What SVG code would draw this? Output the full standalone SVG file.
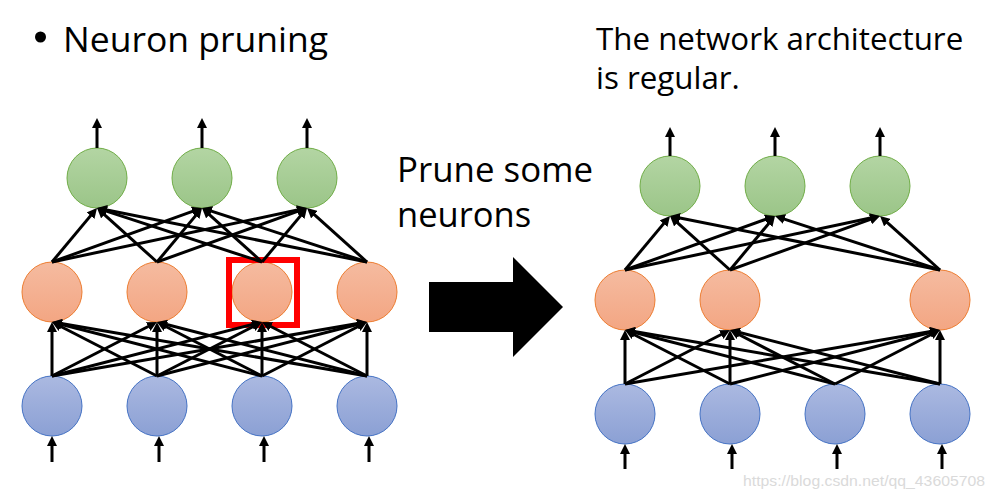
<svg xmlns="http://www.w3.org/2000/svg" width="995" height="498" viewBox="0 0 995 498">
<defs>
<linearGradient id="gG" x1="0" y1="0" x2="0" y2="1"><stop offset="0" stop-color="#b3d5a3"/><stop offset="1" stop-color="#9bc588"/></linearGradient>
<linearGradient id="gO" x1="0" y1="0" x2="0" y2="1"><stop offset="0" stop-color="#f5bba0"/><stop offset="1" stop-color="#f3a683"/></linearGradient>
<linearGradient id="gB" x1="0" y1="0" x2="0" y2="1"><stop offset="0" stop-color="#abb9e1"/><stop offset="1" stop-color="#8ba0d4"/></linearGradient>
<marker id="ah" viewBox="0 0 10 10" markerUnits="userSpaceOnUse" markerWidth="10" markerHeight="10" refX="5" refY="5" orient="auto"><path d="M0,0 L10,5 L0,10 z" fill="#000"/></marker>
</defs>
<style>
.g{fill:url(#gG);stroke:#70ad47;stroke-width:1}
.o{fill:url(#gO);stroke:#ed7d31;stroke-width:1}
.b{fill:url(#gB);stroke:#4472c4;stroke-width:1}
.e{stroke:#000;stroke-width:3;fill:none;marker-end:url(#ah)}
.t{font-family:"Open Sans","Noto Sans",sans-serif;fill:#000}
</style>
<rect width="995" height="498" fill="#fff"/>

<g id="title">
<circle cx="40.5" cy="37" r="5.5" fill="#000"/>
<text class="t" x="63" y="52" font-size="35.5">Neuron pruning</text>
</g>
<g id="note">
<text class="t" x="596" y="50" font-size="31.3">The network architecture</text>
<text class="t" x="596" y="89" font-size="31.3">is regular.</text>
</g>
<g id="prune-label">
<text class="t" x="397" y="182" font-size="34.5" textLength="196" lengthAdjust="spacingAndGlyphs">Prune some</text>
<text class="t" x="397" y="227" font-size="34.5">neurons</text>
</g>
<g id="big-arrow">
<polygon points="429,282 513,282 513,257 563,307 513,357 513,332 429,332" fill="#000"/>
</g>

<!-- left network nodes -->
<g id="L-out1"><circle class="g" cx="97" cy="178" r="30"/></g>
<g id="L-out2"><circle class="g" cx="202" cy="178" r="30"/></g>
<g id="L-out3"><circle class="g" cx="307" cy="178" r="30"/></g>
<g id="L-hid1"><circle class="o" cx="52" cy="292" r="30"/></g>
<g id="L-hid2"><circle class="o" cx="157" cy="292" r="30"/></g>
<g id="L-hid3"><circle class="o" cx="262" cy="292" r="30"/></g>
<g id="L-hid4"><circle class="o" cx="367" cy="292" r="30"/></g>
<g id="L-in1"><circle class="b" cx="52" cy="406" r="30"/></g>
<g id="L-in2"><circle class="b" cx="157" cy="406" r="30"/></g>
<g id="L-in3"><circle class="b" cx="262" cy="406" r="30"/></g>
<g id="L-in4"><circle class="b" cx="367" cy="406" r="30"/></g>
<g id="prune-mark"><rect x="229" y="260" width="68" height="65" fill="none" stroke="#ff0000" stroke-width="6"/></g>

<!-- right network nodes -->
<g id="R-out1"><circle class="g" cx="670" cy="186" r="30"/></g>
<g id="R-out2"><circle class="g" cx="775" cy="186" r="30"/></g>
<g id="R-out3"><circle class="g" cx="880" cy="186" r="30"/></g>
<g id="R-hid1"><circle class="o" cx="625" cy="300" r="30"/></g>
<g id="R-hid2"><circle class="o" cx="730" cy="300" r="30"/></g>
<g id="R-hid4"><circle class="o" cx="940" cy="300" r="30"/></g>
<g id="R-in1"><circle class="b" cx="625" cy="414" r="30"/></g>
<g id="R-in2"><circle class="b" cx="730" cy="414" r="30"/></g>
<g id="R-in3"><circle class="b" cx="835" cy="414" r="30"/></g>
<g id="R-in4"><circle class="b" cx="940" cy="414" r="30"/></g>

<g id="connectors">
<!-- left outputs -->
<line class="e" x1="97" y1="148" x2="97" y2="123"/>
<line class="e" x1="202" y1="148" x2="202" y2="123"/>
<line class="e" x1="307" y1="148" x2="307" y2="123"/>
<!-- left hidden -> output -->
<line class="e" x1="52" y1="262" x2="93.80" y2="211.84"/>
<line class="e" x1="52" y1="262" x2="197.29" y2="209.69"/>
<line class="e" x1="52" y1="262" x2="302.11" y2="209.04"/>
<line class="e" x1="157" y1="262" x2="100.72" y2="211.35"/>
<line class="e" x1="157" y1="262" x2="198.80" y2="211.84"/>
<line class="e" x1="157" y1="262" x2="302.29" y2="209.69"/>
<line class="e" x1="262" y1="262" x2="101.75" y2="209.56"/>
<line class="e" x1="262" y1="262" x2="205.72" y2="211.35"/>
<line class="e" x1="262" y1="262" x2="303.80" y2="211.84"/>
<line class="e" x1="367" y1="262" x2="101.90" y2="208.98"/>
<line class="e" x1="367" y1="262" x2="206.75" y2="209.56"/>
<line class="e" x1="367" y1="262" x2="310.72" y2="211.35"/>
<!-- left input -> hidden -->
<line class="e" x1="52" y1="376" x2="52" y2="327"/>
<line class="e" x1="52" y1="376" x2="152.55" y2="324.29"/>
<line class="e" x1="52" y1="376" x2="257.16" y2="323.25"/>
<line class="e" x1="52" y1="376" x2="362.07" y2="322.84"/>
<line class="e" x1="157" y1="376" x2="56.45" y2="324.29"/>
<line class="e" x1="157" y1="376" x2="157" y2="327"/>
<line class="e" x1="157" y1="376" x2="257.55" y2="324.29"/>
<line class="e" x1="157" y1="376" x2="362.16" y2="323.25"/>
<line class="e" x1="262" y1="376" x2="56.84" y2="323.25"/>
<line class="e" x1="262" y1="376" x2="161.45" y2="324.29"/>
<line class="e" x1="262" y1="376" x2="262" y2="327"/>
<line class="e" x1="262" y1="376" x2="362.55" y2="324.29"/>
<line class="e" x1="367" y1="376" x2="56.93" y2="322.84"/>
<line class="e" x1="367" y1="376" x2="161.84" y2="323.25"/>
<line class="e" x1="367" y1="376" x2="266.45" y2="324.29"/>
<line class="e" x1="367" y1="376" x2="367" y2="327"/>
<!-- left inputs -->
<line class="e" x1="52" y1="462" x2="52" y2="441"/>
<line class="e" x1="159" y1="462" x2="159" y2="441"/>
<line class="e" x1="264" y1="462" x2="264" y2="441"/>
<line class="e" x1="369" y1="462" x2="369" y2="441"/>

<!-- right outputs -->
<line class="e" x1="670" y1="156" x2="670" y2="132"/>
<line class="e" x1="775" y1="156" x2="775" y2="132"/>
<line class="e" x1="880" y1="156" x2="880" y2="132"/>
<!-- right hidden -> output -->
<line class="e" x1="625" y1="270" x2="666.80" y2="219.84"/>
<line class="e" x1="625" y1="270" x2="770.29" y2="217.69"/>
<line class="e" x1="625" y1="270" x2="875.11" y2="217.04"/>
<line class="e" x1="730" y1="270" x2="673.72" y2="219.35"/>
<line class="e" x1="730" y1="270" x2="771.80" y2="219.84"/>
<line class="e" x1="730" y1="270" x2="875.29" y2="217.69"/>
<line class="e" x1="940" y1="270" x2="674.90" y2="216.98"/>
<line class="e" x1="940" y1="270" x2="779.75" y2="217.56"/>
<line class="e" x1="940" y1="270" x2="883.72" y2="219.35"/>
<!-- right input -> hidden -->
<line class="e" x1="625" y1="384" x2="625" y2="335"/>
<line class="e" x1="730" y1="384" x2="629.45" y2="332.29"/>
<line class="e" x1="835" y1="384" x2="629.84" y2="331.25"/>
<line class="e" x1="940" y1="384" x2="629.93" y2="330.84"/>
<line class="e" x1="625" y1="384" x2="725.55" y2="332.29"/>
<line class="e" x1="730" y1="384" x2="730" y2="335"/>
<line class="e" x1="835" y1="384" x2="734.45" y2="332.29"/>
<line class="e" x1="940" y1="384" x2="734.84" y2="331.25"/>
<line class="e" x1="625" y1="384" x2="935.07" y2="330.84"/>
<line class="e" x1="730" y1="384" x2="935.16" y2="331.25"/>
<line class="e" x1="835" y1="384" x2="935.55" y2="332.29"/>
<line class="e" x1="940" y1="384" x2="940" y2="335"/>
<!-- right inputs -->
<line class="e" x1="625" y1="469" x2="625" y2="449"/>
<line class="e" x1="732" y1="469" x2="732" y2="449"/>
<line class="e" x1="837" y1="469" x2="837" y2="449"/>
<line class="e" x1="942" y1="469" x2="942" y2="449"/>
</g>

<g id="watermark">
<text x="743" y="486" font-family="'Liberation Sans',Arial,sans-serif" font-size="15" fill="#dadada" textLength="242" lengthAdjust="spacingAndGlyphs">https://blog.csdn.net/qq_43605708</text>
</g>
</svg>
